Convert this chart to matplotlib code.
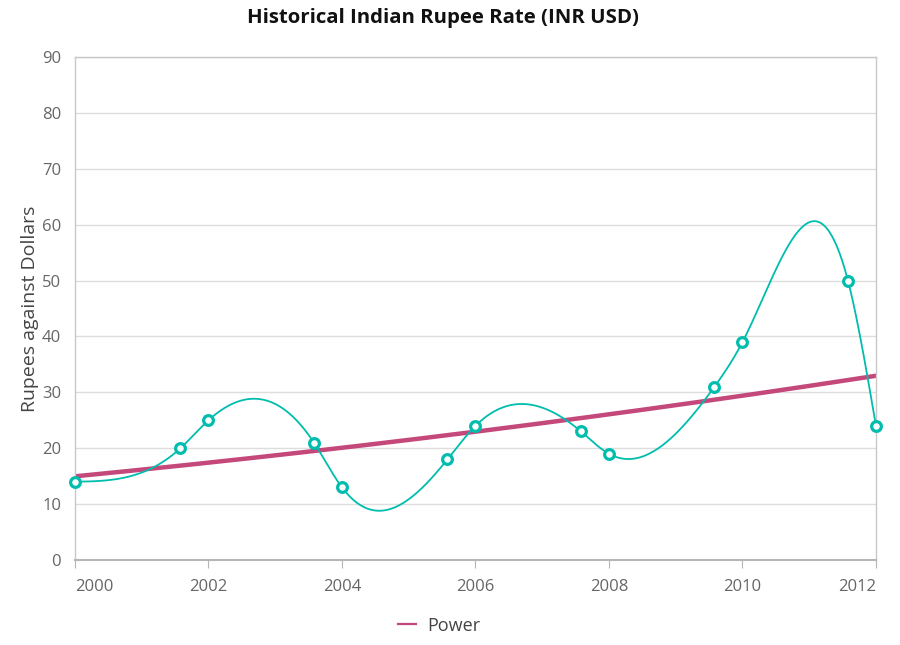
import numpy as np
import matplotlib
matplotlib.use('Agg')
import matplotlib.pyplot as plt
from matplotlib.lines import Line2D

years = [2000, 2001.58, 2002, 2003.58, 2004, 2005.58, 2006, 2007.58, 2008,
         2009.58, 2010, 2011.58, 2012]
rates = [14, 20, 25, 21, 13, 18, 24, 23, 19, 31, 39, 50, 24]
x_ticks = [2000, 2002, 2004, 2006, 2008, 2010, 2012]
y_ticks = [0, 10, 20, 30, 40, 50, 60, 70, 80, 90]

TEAL = '#00bdae'
TREND = '#c4487a'
TXT = '#666666'


def natural_spline(x, y, xs):
    x = np.asarray(x, float)
    y = np.asarray(y, float)
    n = len(x)
    h = np.diff(x)
    A = np.zeros((n, n))
    r = np.zeros(n)
    A[0, 0] = A[-1, -1] = 1
    for i in range(1, n - 1):
        A[i, i - 1] = h[i - 1]
        A[i, i] = 2 * (h[i - 1] + h[i])
        A[i, i + 1] = h[i]
        r[i] = 6 * ((y[i + 1] - y[i]) / h[i] - (y[i] - y[i - 1]) / h[i - 1])
    m = np.linalg.solve(A, r)
    out = np.empty_like(xs)
    for k, t in enumerate(xs):
        i = min(max(np.searchsorted(x, t) - 1, 0), n - 2)
        a = x[i + 1] - t
        b = t - x[i]
        out[k] = (m[i] * a ** 3 + m[i + 1] * b ** 3) / (6 * h[i]) \
            + (y[i] / h[i] - m[i] * h[i] / 6) * a \
            + (y[i + 1] / h[i] - m[i + 1] * h[i] / 6) * b
    return out


plt.rcParams['font.family'] = ['Open Sans', 'DejaVu Sans']
fig = plt.figure(figsize=(9, 6.45), dpi=100)
ax = fig.add_axes([0.0833, 0.1318, 0.89, 0.7798])

xs = np.linspace(years[0], years[-1], 600)
ax.plot(xs, natural_spline(years, rates, xs), color=TEAL, lw=1.3, zorder=3)
ax.plot(years, rates, 'o', ms=7, mfc='white', mec=TEAL, mew=2.3, zorder=4,
        clip_on=False)

# power trendline (fit on time since epoch, like the original chart)
t = np.array(years) - 1970
b, lna = np.polyfit(np.log(t), np.log(rates), 1)
ax.plot(xs, np.exp(lna) * (xs - 1970) ** b, color=TREND, lw=3.2, zorder=2)

ax.set_xlim(2000, 2012)
ax.set_ylim(0, 90)
ax.set_xticks(x_ticks)
ax.set_yticks(y_ticks)
ax.set_xticklabels([str(v) for v in x_ticks], color=TXT, fontsize=12)
ax.set_yticklabels([str(v) for v in y_ticks], color=TXT, fontsize=12)
labs = ax.get_xticklabels()
labs[0].set_horizontalalignment('left')
labs[-1].set_horizontalalignment('right')
ax.tick_params(axis='x', length=6, color='#b5b5b5', pad=8)
ax.tick_params(axis='y', length=0, pad=10)
ax.grid(axis='y', color='#dddddd', lw=1)
ax.set_axisbelow(True)
for s in ax.spines.values():
    s.set_color('#c8c8c8')
    s.set_linewidth(1)
ax.spines['bottom'].set_color('#b5b5b5')
ax.spines['bottom'].set_linewidth(1.5)

ax.set_ylabel('Rupees against Dollars', fontsize=14, color='#444444', labelpad=2)
fig.suptitle('Historical Indian Rupee Rate (INR USD)', fontsize=14.7,
             fontweight='bold', x=0.492, y=0.988, color='#111111')

h = [Line2D([], [], color=TREND, lw=1.6)]
fig.legend(h, ['Power'], loc='center', bbox_to_anchor=(0.488, 0.03),
           frameon=False, fontsize=13, handlelength=1.0, handletextpad=0.6,
           labelcolor='#444444')

fig.savefig('out.png')
